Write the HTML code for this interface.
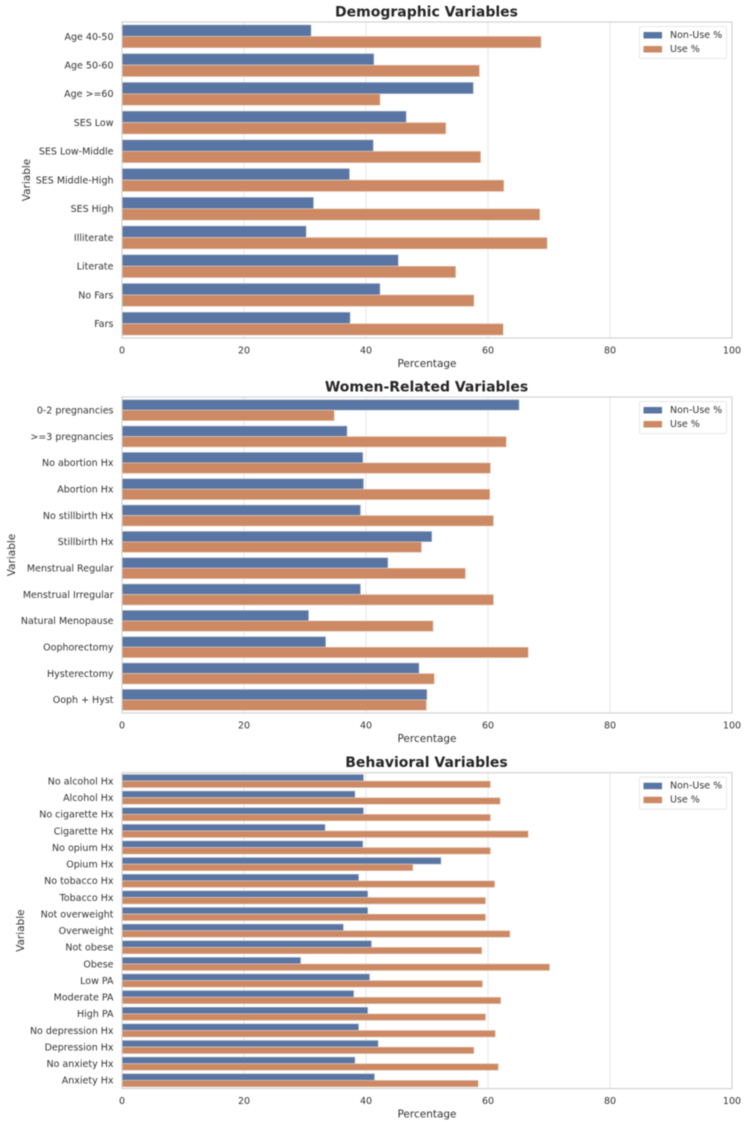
<!DOCTYPE html>
<html lang="en">
<head>
<meta charset="utf-8">
<title>Contraceptive use by variable</title>
<style>
html,body{margin:0;padding:0;background:#fff;}
svg{display:block;font-family:"DejaVu Sans","Liberation Sans",sans-serif;filter:blur(0.4px);}
</style>
</head>
<body>
<svg id="chart" xmlns="http://www.w3.org/2000/svg" width="744" height="1122" viewBox="0 0 744 1122"></svg>
<script>
const xTicks = [0, 20, 40, 60, 80, 100];

const demoTitle = "Demographic Variables";
const demoCategories = ["Age 40-50","Age 50-60","Age >=60","SES Low","SES Low-Middle","SES Middle-High","SES High","Illiterate","Literate","No Fars","Fars"];
const demoNonUse = [31.0,41.3,57.6,46.6,41.2,37.3,31.4,30.2,45.3,42.3,37.4];
const demoUse = [68.7,58.6,42.3,53.1,58.8,62.6,68.5,69.7,54.7,57.7,62.5];

const womenTitle = "Women-Related Variables";
const womenCategories = ["0-2 pregnancies",">=3 pregnancies","No abortion Hx","Abortion Hx","No stillbirth Hx","Stillbirth Hx","Menstrual Regular","Menstrual Irregular","Natural Menopause","Oophorectomy","Hysterectomy","Ooph + Hyst"];
const womenNonUse = [65.1,36.9,39.5,39.6,39.1,50.8,43.6,39.1,30.6,33.4,48.7,50.0];
const womenUse = [34.8,63.0,60.4,60.3,60.9,49.1,56.3,60.9,51.0,66.6,51.2,49.9];

const behavTitle = "Behavioral Variables";
const behavCategories = ["No alcohol Hx","Alcohol Hx","No cigarette Hx","Cigarette Hx","No opium Hx","Opium Hx","No tobacco Hx","Tobacco Hx","Not overweight","Overweight","Not obese","Obese","Low PA","Moderate PA","High PA","No depression Hx","Depression Hx","No anxiety Hx","Anxiety Hx"];
const behavNonUse = [39.6,38.2,39.6,33.3,39.5,52.3,38.8,40.3,40.3,36.3,40.9,29.3,40.6,38.0,40.3,38.8,42.0,38.2,41.4];
const behavUse = [60.4,62.0,60.4,66.6,60.4,47.7,61.1,59.6,59.6,63.6,59.0,70.1,59.1,62.1,59.6,61.2,57.7,61.7,58.4];

const NS = "http://www.w3.org/2000/svg";
const root = document.getElementById("chart");
const AX_LEFT = 122, AX_RIGHT = 732, X_MAX = 100;
const BLUE = "#5875a4", ORANGE = "#cc8963", INK = "#333333";

function xScale(v){ return AX_LEFT + (v / X_MAX) * (AX_RIGHT - AX_LEFT); }

function mk(tag, parent, attrs, text){
  const el = document.createElementNS(NS, tag);
  for (const k in attrs) el.setAttribute(k, attrs[k]);
  if (text !== undefined) el.textContent = text;
  parent.appendChild(el);
  return el;
}

function drawPanel(key, title, categories, nonUse, use, top, bottom, yLabelX){
  const band = (bottom - top) / categories.length;
  const yCenter = i => top + band * (i + 0.5);
  const barH = band * 0.4;

  const g = mk("g", root, {});
  
  

  xTicks.slice(1, -1).forEach(t => {
    const line = mk("line", g, {x1:xScale(t), x2:xScale(t), y1:top, y2:bottom, stroke:"#e8e8e8", "stroke-width":1.1});
    
    
  });

  categories.forEach((c, i) => {
    const a = mk("rect", g, {x:xScale(0), y:yCenter(i) - barH, width:xScale(nonUse[i]) - xScale(0), height:barH, fill:BLUE, stroke:"#d0d0d0", "stroke-width":0.6});
    
    
    const b = mk("rect", g, {x:xScale(0), y:yCenter(i), width:xScale(use[i]) - xScale(0), height:barH, fill:ORANGE, stroke:"#e8d5c8", "stroke-width":0.6});
    
    
    const lab = mk("text", g, {x:113.5, y:yCenter(i) + 3.4, "text-anchor":"end", "font-size":9.5, fill:INK}, c);
    
    
  });

  const frame = mk("rect", g, {x:AX_LEFT, y:top, width:AX_RIGHT - AX_LEFT, height:bottom - top, fill:"none", stroke:"#cfcfcf", "stroke-width":1.1});
  
  

  xTicks.forEach(t => {
    const lab = mk("text", g, {x:xScale(t), y:bottom + 15.5, "text-anchor":"middle", "font-size":9.5, fill:INK}, String(t));
    
    
  });

  const xTitle = mk("text", g, {x:(AX_LEFT + AX_RIGHT) / 2, y:bottom + 29, "text-anchor":"middle", "font-size":10.5, fill:INK}, "Percentage");
  
  

  const midY = (top + bottom) / 2;
  const yTitle = mk("text", g, {x:yLabelX, y:midY, "text-anchor":"middle", "font-size":10.5, fill:INK, transform:"rotate(-90 " + yLabelX + " " + midY + ")"}, "Variable");
  
  

  const head = mk("text", g, {x:(AX_LEFT + AX_RIGHT) / 2 - 0.5, y:top - 5.5, "text-anchor":"middle", "font-size":14, "font-weight":"bold", fill:"#262626"}, title);
  
  

  const lg = mk("g", g, {});
  
  
  const box = mk("rect", lg, {x:639.5, y:top + 4.5, width:87, height:32, rx:1.5, fill:"#fff", stroke:"#e2e2e2", "stroke-width":0.8});
  
  
  const s1 = mk("rect", lg, {x:643.5, y:top + 10, width:18.5, height:6.5, fill:BLUE});
  
  
  const s2 = mk("rect", lg, {x:643.5, y:top + 24, width:18.5, height:6.5, fill:ORANGE});
  
  
  const t1 = mk("text", lg, {x:670, y:top + 16, "font-size":9.5, fill:INK}, "Non-Use %");
  
  
  const t2 = mk("text", lg, {x:670, y:top + 30, "font-size":9.5, fill:INK}, "Use %");
  
  
}

drawPanel("demographic", demoTitle, demoCategories, demoNonUse, demoUse, 22, 338, 30);
drawPanel("women-related", womenTitle, womenCategories, womenNonUse, womenUse, 397, 713, 15);
drawPanel("behavioral", behavTitle, behavCategories, behavNonUse, behavUse, 772.7, 1088.6, 24);
</script>
</body>
</html>
